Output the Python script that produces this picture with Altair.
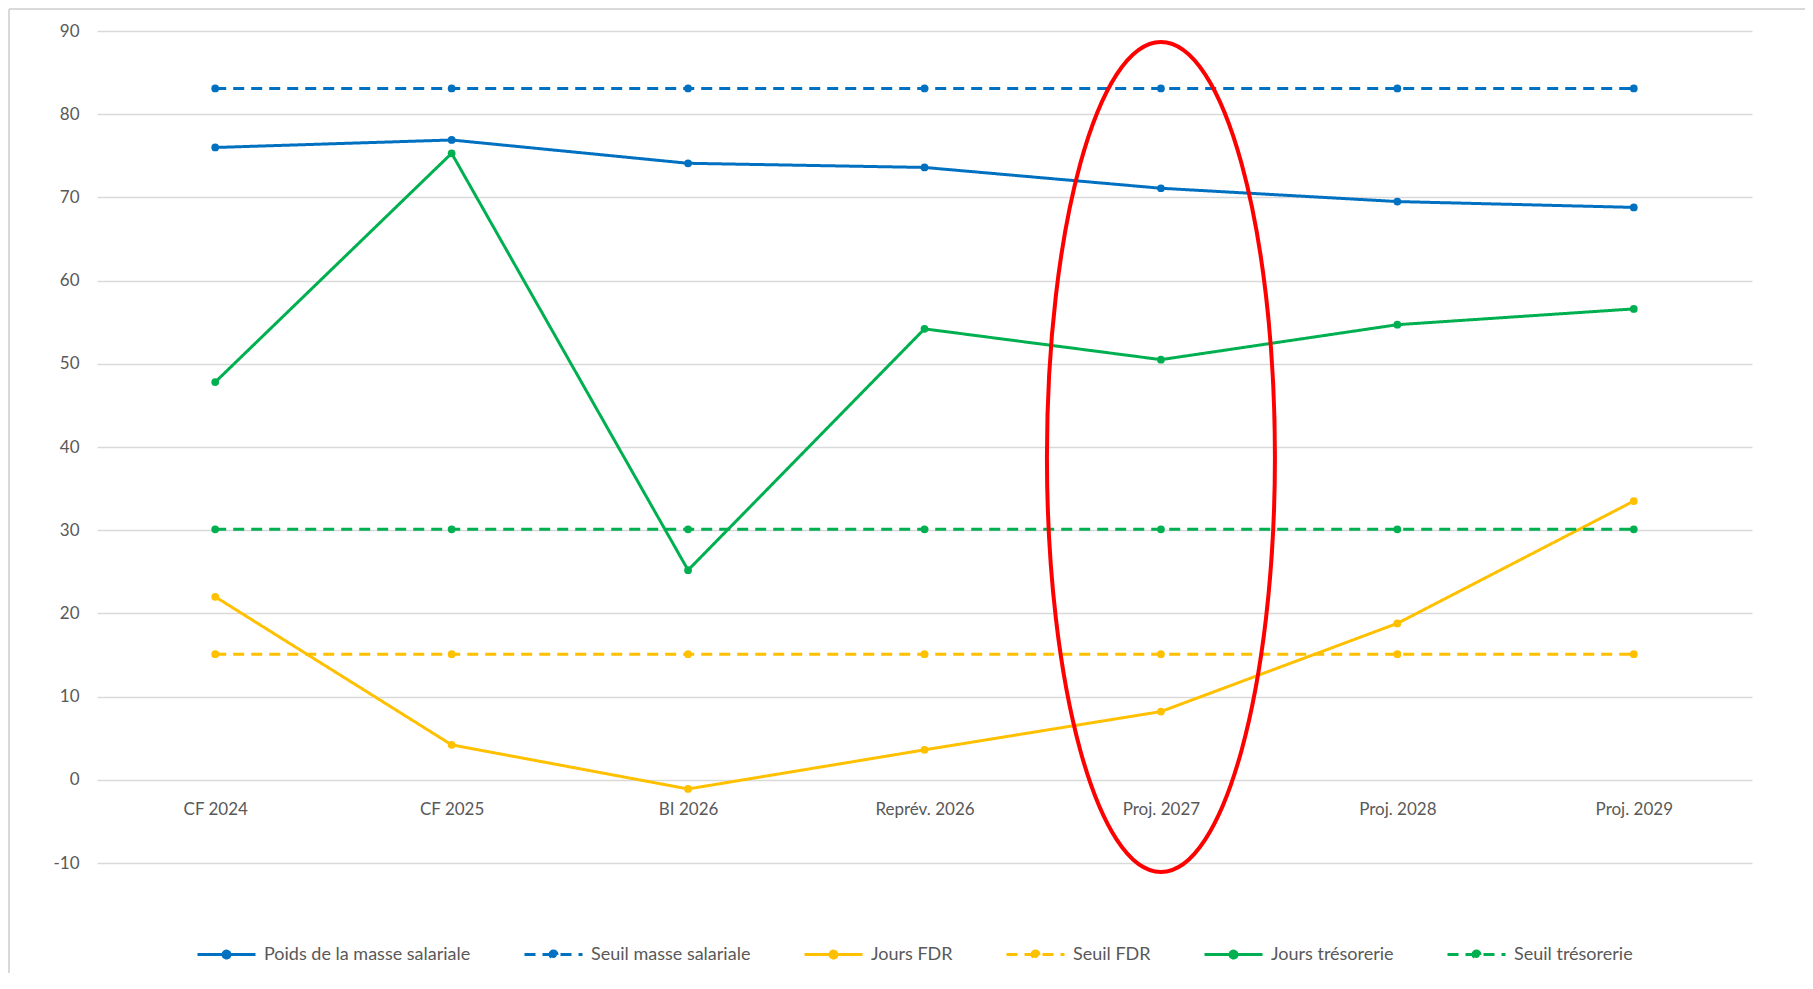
import altair as alt
import pandas as pd

categories = ["CF 2024", "CF 2025", "BI 2026", "Reprév. 2026", "Proj. 2027", "Proj. 2028", "Proj. 2029"]
series_names = [
    "Poids de la masse salariale",
    "Seuil masse salariale",
    "Jours FDR",
    "Seuil FDR",
    "Jours trésorerie",
    "Seuil trésorerie",
]
poids_masse = [76.0, 76.9, 74.1, 73.6, 71.1, 69.5, 68.8]
seuil_masse = [83.1, 83.1, 83.1, 83.1, 83.1, 83.1, 83.1]
jours_fdr = [22.0, 4.2, -1.1, 3.6, 8.2, 18.8, 33.5]
seuil_fdr = [15.1, 15.1, 15.1, 15.1, 15.1, 15.1, 15.1]
jours_treso = [47.8, 75.3, 25.2, 54.2, 50.5, 54.7, 56.6]
seuil_treso = [30.1, 30.1, 30.1, 30.1, 30.1, 30.1, 30.1]

series_colors = ["#0070C0", "#0070C0", "#FFC000", "#FFC000", "#00B050", "#00B050"]
series_dashes = [[1, 0], [11, 7], [1, 0], [11, 7], [1, 0], [11, 7]]

# annotation (red ellipse around Proj. 2027)
annot_cat = ["Proj. 2027"]
annot_val = [38.8]

all_values = [poids_masse, seuil_masse, jours_fdr, seuil_fdr, jours_treso, seuil_treso]
rows = []
for name, vals in zip(series_names, all_values):
    for c, v in zip(categories, vals):
        rows.append({"cat": c, "value": v, "series": name})
df = pd.DataFrame(rows)
annot_df = pd.DataFrame({"cat": annot_cat, "value": annot_val})
frame_df = pd.DataFrame({"z": [0]})

W, H = 1655, 832
FONT = "Lato"
TXT = "#595959"

legend_symbol = "M-1,0L1,0M-0.12,0A0.12,0.12,0,1,1,0.12,0A0.12,0.12,0,1,1,-0.12,0Z"


def make_legend():
    return alt.Legend(
        orient="none",
        legendX=99,
        legendY=893,
        direction="horizontal",
        columns=6,
        title=None,
        symbolType=legend_symbol,
        symbolSize=3364,
        symbolStrokeWidth=3,
        labelFont=FONT,
        labelFontSize=18,
        labelColor=TXT,
        labelOffset=7,
        labelLimit=500,
        columnPadding=47,
        padding=0,
    )


x_enc = alt.X(
    "cat:N",
    sort=categories,
    scale=alt.Scale(padding=0.5),
    title=None,
    axis=alt.Axis(
        labelAngle=0,
        domain=False,
        ticks=False,
        grid=False,
        offset=-83.2,
        labelPadding=22,
        labelFont=FONT,
        labelFontSize=17,
        labelColor=TXT,
    ),
)
y_enc = alt.Y(
    "value:Q",
    scale=alt.Scale(domain=[-10, 90], nice=False, zero=False),
    title=None,
    axis=alt.Axis(
        values=list(range(-10, 91, 10)),
        labelExpr="'' + datum.value",
        domain=False,
        ticks=False,
        labelPadding=18,
        labelFont=FONT,
        labelFontSize=17,
        labelColor=TXT,
        gridColor="#d9d9d9",
        gridWidth=1.5,
    ),
)

lines = alt.Chart(df).mark_line(
    strokeWidth=3,
    point=alt.OverlayMarkDef(size=60, filled=True, opacity=1),
).encode(
    x=x_enc,
    y=y_enc,
    color=alt.Color(
        "series:N",
        scale=alt.Scale(domain=series_names, range=series_colors),
        sort=series_names,
        legend=make_legend(),
    ),
    strokeDash=alt.StrokeDash(
        "series:N",
        scale=alt.Scale(domain=series_names, range=series_dashes),
        sort=series_names,
        legend=make_legend(),
    ),
    order=alt.Order("cat_order:Q"),
).transform_calculate(
    cat_order="indexof(" + str(categories) + ", datum.cat)"
)

k = 0.2747
c = round(k * 0.5523, 4)
ellipse_path = (
    f"M0,-1 C{c},-1 {k},-0.5523 {k},0 C{k},0.5523 {c},1 0,1 "
    f"C{-c},1 {-k},0.5523 {-k},0 C{-k},-0.5523 {-c},-1 0,-1 Z"
)
ellipse = alt.Chart(annot_df).mark_point(
    shape=ellipse_path,
    size=830 * 830,
    filled=False,
    stroke="#FF0000",
    strokeWidth=4,
    opacity=1,
).encode(x=alt.X("cat:N", sort=categories), y=alt.Y("value:Q"))

frame_left = alt.Chart(frame_df).mark_rule(color="#d9d9d9", strokeWidth=2).encode(
    x=alt.value(-88), y=alt.value(-22), y2=alt.value(H + 110)
)
frame_top = alt.Chart(frame_df).mark_rule(color="#d9d9d9", strokeWidth=2).encode(
    x=alt.value(-88), x2=alt.value(W + 53), y=alt.value(-22)
)

chart = alt.layer(frame_left, frame_top, lines, ellipse).properties(
    width=W,
    height=H,
    autosize=alt.AutoSizeParams(type="none"),
    padding={"left": 89, "top": 23, "right": 53, "bottom": 110},
).configure(font=FONT).configure_view(stroke=None)

chart.save("out.html", embed_options={"renderer": "svg", "actions": False})
